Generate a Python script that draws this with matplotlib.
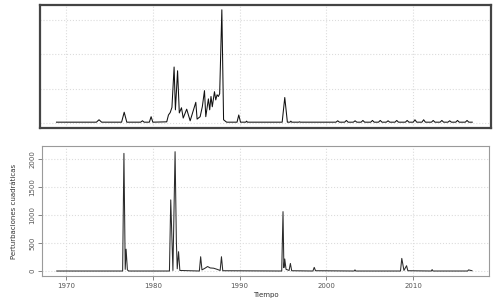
import matplotlib
matplotlib.use("Agg")
import matplotlib.pyplot as plt

# upper panel: original series (no tick labels shown)
top_years = [1968.9, 1973.5, 1973.8, 1974.1, 1976.4, 1976.7, 1977.0, 1978.6, 1978.8, 1979.0,
             1979.6, 1979.8, 1980.0, 1981.6, 1981.8, 1982.0, 1982.2, 1982.45, 1982.6, 1982.85,
             1983.05, 1983.3, 1983.5, 1983.9, 1984.3, 1984.95, 1985.1, 1985.45, 1985.7, 1985.95,
             1986.1, 1986.4, 1986.55, 1986.7, 1986.85, 1987.1, 1987.25, 1987.4, 1987.55, 1987.7,
             1987.95, 1988.15, 1988.5, 1989.7, 1989.9, 1990.1, 1990.7, 1990.8, 1990.9, 1994.9,
             1995.2, 1995.5, 1995.8, 1995.9, 1996.0, 1996.8, 1996.9, 1997.0,
             2001.1, 2001.3, 2001.5, 2002.1, 2002.3, 2002.5, 2003.1, 2003.3, 2003.5,
             2004.0, 2004.2, 2004.4, 2005.1, 2005.3, 2005.5, 2006.0, 2006.2, 2006.4,
             2006.9, 2007.1, 2007.3, 2007.9, 2008.1, 2008.3, 2009.1, 2009.3, 2009.5,
             2010.0, 2010.2, 2010.4, 2011.0, 2011.2, 2011.4, 2012.1, 2012.3, 2012.5,
             2013.1, 2013.3, 2013.5, 2014.0, 2014.2, 2014.4, 2014.9, 2015.1, 2015.3,
             2016.0, 2016.2, 2016.4, 2016.8]
top_values = [0.02, 0.02, 0.09, 0.02, 0.02, 0.31, 0.02, 0.02, 0.06, 0.02,
              0.02, 0.18, 0.02, 0.03, 0.23, 0.3, 0.45, 1.63, 0.38, 1.52,
              0.29, 0.44, 0.14, 0.4, 0.06, 0.6, 0.11, 0.18, 0.47, 0.94,
              0.18, 0.7, 0.38, 0.77, 0.47, 0.91, 0.67, 0.82, 0.77, 0.85,
              3.3, 0.09, 0.02, 0.02, 0.23, 0.02, 0.02, 0.05, 0.02, 0.02,
              0.74, 0.02, 0.02, 0.05, 0.02, 0.02, 0.03, 0.02,
              0.02, 0.06, 0.02, 0.02, 0.07, 0.02, 0.02, 0.06, 0.02,
              0.02, 0.07, 0.02, 0.02, 0.07, 0.02, 0.02, 0.07, 0.02,
              0.02, 0.06, 0.02, 0.02, 0.07, 0.02, 0.02, 0.07, 0.02,
              0.02, 0.09, 0.02, 0.02, 0.09, 0.02, 0.02, 0.07, 0.02,
              0.02, 0.07, 0.02, 0.02, 0.06, 0.02, 0.02, 0.07, 0.02,
              0.02, 0.07, 0.02, 0.02]

# lower panel: squared perturbations
bottom_years = [1968.9, 1976.5, 1976.65, 1976.8, 1976.9, 1977.05, 1977.2, 1981.9, 1982.05, 1982.3,
                1982.55, 1982.7, 1982.8, 1982.95, 1983.1, 1985.35, 1985.5, 1985.65, 1986.0, 1986.3,
                1986.6, 1987.0, 1987.4, 1987.75, 1987.9, 1988.05, 1994.85, 1995.0, 1995.1, 1995.2,
                1995.35, 1995.7, 1995.85, 1996.0, 1998.45, 1998.6, 1998.75, 2003.2, 2003.3, 2003.4,
                2008.55, 2008.7, 2008.95, 2009.25, 2009.4, 2012.1, 2012.2, 2012.3, 2016.3, 2016.4,
                2016.8]
bottom_values = [0, 0, 2100, 30, 390, 20, 0, 0, 1270, 10,
                 2130, 520, 40, 345, 10, 0, 255, 20, 50, 80,
                 55, 50, 30, 10, 255, 5, 0, 1060, 60, 215,
                 30, 10, 135, 5, 0, 65, 5, 0, 20, 0,
                 0, 225, 10, 95, 5, 0, 25, 0, 0, 20,
                 5]

x_ticks = [1970, 1980, 1990, 2000, 2010]
y_ticks = [0, 500, 1000, 1500, 2000]
top_grid = [0, 1, 2, 3]

W, H = 498, 303
fig = plt.figure(figsize=(W / 100, H / 100), dpi=100)

grid_kw = dict(color="#dcdcdc", linestyle=":", linewidth=0.8)

# upper panel
ax1 = fig.add_axes([40 / W, 1 - 128 / H, 451 / W, 123 / H])
ax1.plot(top_years, top_values, color="#111111", linewidth=0.75)
ax1.set_xlim(1967.0, 2018.96)
ax1.set_ylim(-0.15, 3.44)
for x in x_ticks:
    ax1.axvline(x, zorder=0, **grid_kw)
for y in top_grid:
    ax1.axhline(y, zorder=0, **grid_kw)
ax1.set_xticks([])
ax1.set_yticks([])
for s in ax1.spines.values():
    s.set_color("#444444")
    s.set_linewidth(1.6)

# lower panel
ax2 = fig.add_axes([42 / W, 1 - 276 / H, 447 / W, 130 / H])
ax2.plot(bottom_years, bottom_values, color="#2a2a2a", linewidth=0.75)
ax2.set_xlim(1967.2, 2018.76)
ax2.set_ylim(-89, 2232)
ax2.set_xticks(x_ticks)
ax2.set_yticks(y_ticks)
ax2.set_xticklabels([str(v) for v in x_ticks], fontsize=5, color="#333333")
ax2.set_yticklabels([str(v) for v in y_ticks], fontsize=5, color="#333333",
                    rotation=90, va="center")
ax2.tick_params(length=3, width=0.5, colors="#555555", pad=2)
for x in x_ticks:
    ax2.axvline(x, zorder=0, **grid_kw)
for y in y_ticks:
    ax2.axhline(y, zorder=0, **grid_kw)
for s in ax2.spines.values():
    s.set_color("#9a9a9a")
    s.set_linewidth(0.8)
ax2.set_xlabel("Tiempo", fontsize=5, color="#333333", labelpad=2)
ax2.set_ylabel("Perturbaciones cuadráticas", fontsize=5, color="#333333", labelpad=9)

fig.savefig("out.png", dpi=100)
plt.close(fig)
